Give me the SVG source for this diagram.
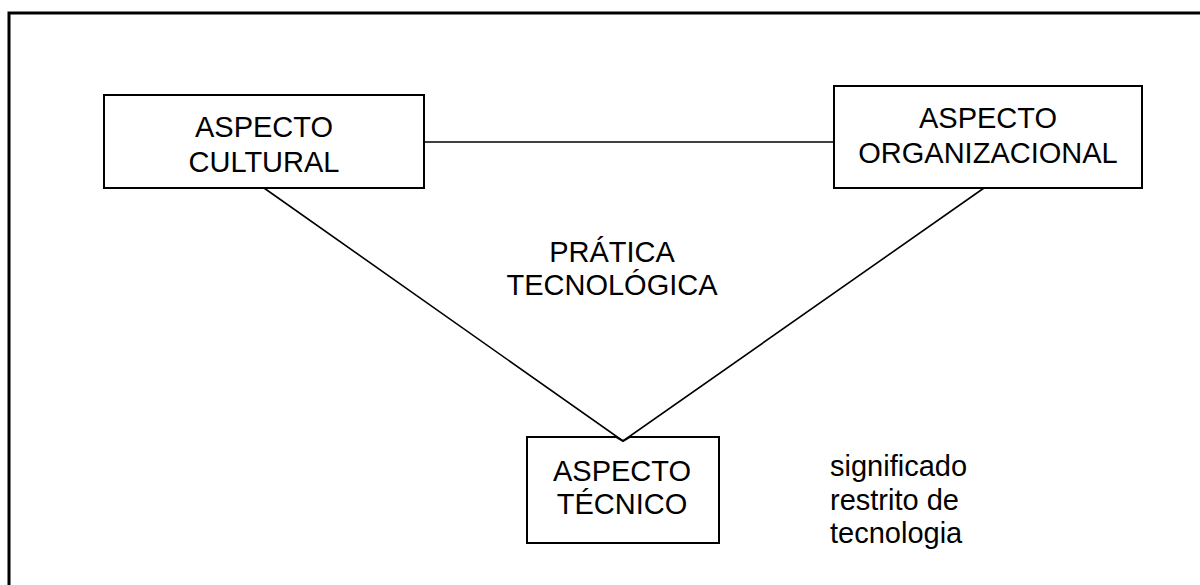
<svg xmlns="http://www.w3.org/2000/svg" width="1200" height="585" viewBox="0 0 1200 585">
<style>
.box{fill:#fff;stroke:#000;stroke-width:2}
.t{font-family:"Liberation Sans",Arial,sans-serif;font-size:29px;fill:#000}
.c{text-anchor:middle}
.ln{stroke:#000;stroke-width:1.6;fill:none}
</style>
<rect width="1200" height="585" fill="#fff"/>
<rect x="9" y="13" width="1200" height="600" fill="none" stroke="#000" stroke-width="3"/>
<g id="connectors">
<line class="ln" x1="424" y1="142" x2="834" y2="142"/>
<polyline class="ln" points="264,188 623,441 984,188"/>
</g>
<g id="cultural">
<rect class="box" x="104" y="95" width="320" height="93"/>
<text class="t c" x="264" y="137">ASPECTO</text>
<text class="t c" x="264" y="172">CULTURAL</text>
</g>
<g id="organizacional">
<rect class="box" x="834" y="86" width="308" height="102"/>
<text class="t c" x="988" y="128">ASPECTO</text>
<text class="t c" x="988" y="163">ORGANIZACIONAL</text>
</g>
<g id="tecnico">
<path class="box" d="M527,437 H616 L623,441 L630,437 H719 V543 H527 Z"/>
<text class="t c" x="622" y="481">ASPECTO</text>
<text class="t c" x="622" y="514">TÉCNICO</text>
</g>
<g id="pratica">
<text class="t c" x="612" y="262">PRÁTICA</text>
<text class="t c" x="612" y="295">TECNOLÓGICA</text>
</g>
<g id="significado">
<text class="t" x="830" y="476">significado</text>
<text class="t" x="830" y="510">restrito de</text>
<text class="t" x="830" y="543">tecnologia</text>
</g>
</svg>
